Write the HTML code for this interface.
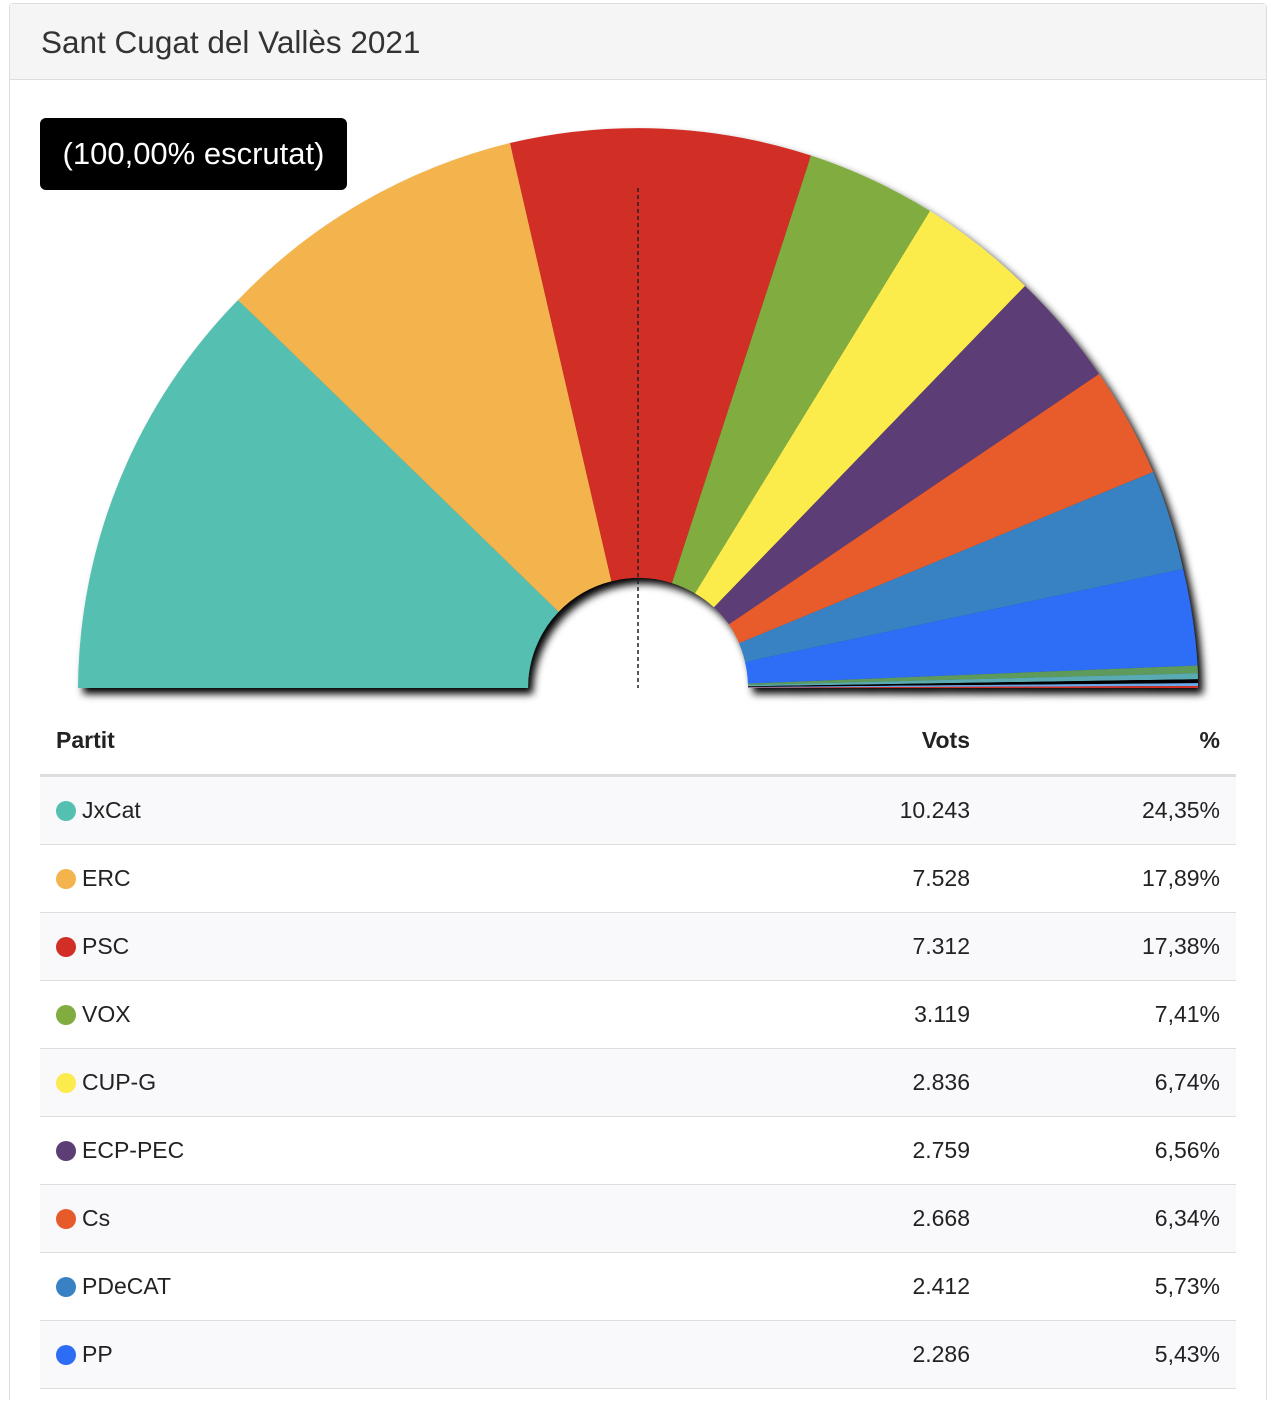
<!DOCTYPE html>
<html><head><meta charset="utf-8"><style>
html,body{margin:0;width:1274px;height:1402px;overflow:hidden}
body{background:#fff;font-family:"Liberation Sans",Arial,sans-serif;position:relative}
.panel{position:absolute;left:9px;top:3px;width:1256px;height:1396px;border:1px solid #ddd;border-bottom:none;border-radius:4px 4px 0 0}
.head{position:absolute;left:0;top:0;right:0;height:75px;background:#f5f5f5;border-bottom:1px solid #ddd}
.head span{position:absolute;left:31px;top:20px;font-size:31.5px;color:#333}
.badge{position:absolute;left:40px;top:118px;width:307px;height:72px;background:#000;border-radius:6px;color:#fff;font-size:31px;line-height:72px;text-align:center}
svg{position:absolute;left:0;top:0}
table{position:absolute;left:40px;top:706px;width:1196px;border-collapse:collapse;font-size:23px;color:#222;table-layout:fixed}
th{height:68px;text-align:left;font-weight:bold;border-bottom:3px solid #ddd;padding:0 16px}
td{height:67px;border-bottom:1px solid #ddd;padding:0 16px}
tr:nth-child(even) td{background:#f9f9fb}
.r{text-align:right}
.d{display:inline-block;width:20px;height:20px;border-radius:50%;vertical-align:-3px;margin-right:6px}
</style></head><body>
<div class="panel"><div class="head"><span>Sant Cugat del Vallès 2021</span></div></div>
<svg width="1274" height="712">
<defs><filter id="sh" x="-5%" y="-5%" width="112%" height="118%"><feDropShadow dx="5" dy="6" stdDeviation="4" flood-color="#000" flood-opacity="1"/></filter></defs>
<g filter="url(#sh)">
<path d="M78,688 A560,560 0 0 1 238,300 L558.6,611.8 A110,110 0 0 0 528,688Z" fill="#55bfb1"/>
<path d="M238,300 A560,560 0 0 1 510,143 L611.4,581.3 A110,110 0 0 0 558.6,611.8Z" fill="#f3b44e"/>
<path d="M510,143 A560,560 0 0 1 811,155.5 L672,583 A110,110 0 0 0 611.4,581.3Z" fill="#d12e28"/>
<path d="M811,155.5 A560,560 0 0 1 930,211 L695,593.4 A110,110 0 0 0 672,583Z" fill="#80ac40"/>
<path d="M930,211 A560,560 0 0 1 1025,286 L714,607.2 A110,110 0 0 0 695,593.4Z" fill="#fbeb4c"/>
<path d="M1025,286 A560,560 0 0 1 1099,374 L729,624.3 A110,110 0 0 0 714,607.2Z" fill="#5d3e74"/>
<path d="M1099,374 A560,560 0 0 1 1153,472 L739,643.3 A110,110 0 0 0 729,624.3Z" fill="#e75b2a"/>
<path d="M1153,472 A560,560 0 0 1 1183,569 L745,662 A110,110 0 0 0 739,643.3Z" fill="#3882c4"/>
<path d="M1183,569 A560,560 0 0 1 1197.5,665.5 L747.9,683.6 A110,110 0 0 0 745,662Z" fill="#2d6df5"/>
<path d="M1197.5,665.5 L1197.8,673.3 L748,685.1 L747.9,683.6Z" fill="#5d9a5c"/>
<path d="M1197.8,673.3 L1197.9,679.2 L748,686.3 L748,685.1Z" fill="#5aaab3"/>
<path d="M1197.9,679.2 L1198,683.1 L748,687 L748,686.3Z" fill="#000"/>
<path d="M1198,683.1 L1198,686 L748,687.6 L748,687Z" fill="#6aa8e8"/>
<path d="M1198,686 L1198,688 L748,688 L748,687.6Z" fill="#d12e28"/>
</g>
<line x1="638" y1="188" x2="638" y2="688" stroke="#222" stroke-width="1.5" stroke-dasharray="4,3"/>
</svg>
<div class="badge">(100,00% escrutat)</div>
<table>
<colgroup><col style="width:684px"><col style="width:262px"><col style="width:250px"></colgroup>
<tr><th>Partit</th><th class="r">Vots</th><th class="r">%</th></tr>
<tr><td><span class="d" style="background:#55bfb1"></span>JxCat</td><td class="r">10.243</td><td class="r">24,35%</td></tr>
<tr><td><span class="d" style="background:#f3b44e"></span>ERC</td><td class="r">7.528</td><td class="r">17,89%</td></tr>
<tr><td><span class="d" style="background:#d12e28"></span>PSC</td><td class="r">7.312</td><td class="r">17,38%</td></tr>
<tr><td><span class="d" style="background:#80ac40"></span>VOX</td><td class="r">3.119</td><td class="r">7,41%</td></tr>
<tr><td><span class="d" style="background:#fbeb4c"></span>CUP-G</td><td class="r">2.836</td><td class="r">6,74%</td></tr>
<tr><td><span class="d" style="background:#5d3e74"></span>ECP-PEC</td><td class="r">2.759</td><td class="r">6,56%</td></tr>
<tr><td><span class="d" style="background:#e75b2a"></span>Cs</td><td class="r">2.668</td><td class="r">6,34%</td></tr>
<tr><td><span class="d" style="background:#3882c4"></span>PDeCAT</td><td class="r">2.412</td><td class="r">5,73%</td></tr>
<tr><td><span class="d" style="background:#2d6df5"></span>PP</td><td class="r">2.286</td><td class="r">5,43%</td></tr>
</table>
</body></html>
